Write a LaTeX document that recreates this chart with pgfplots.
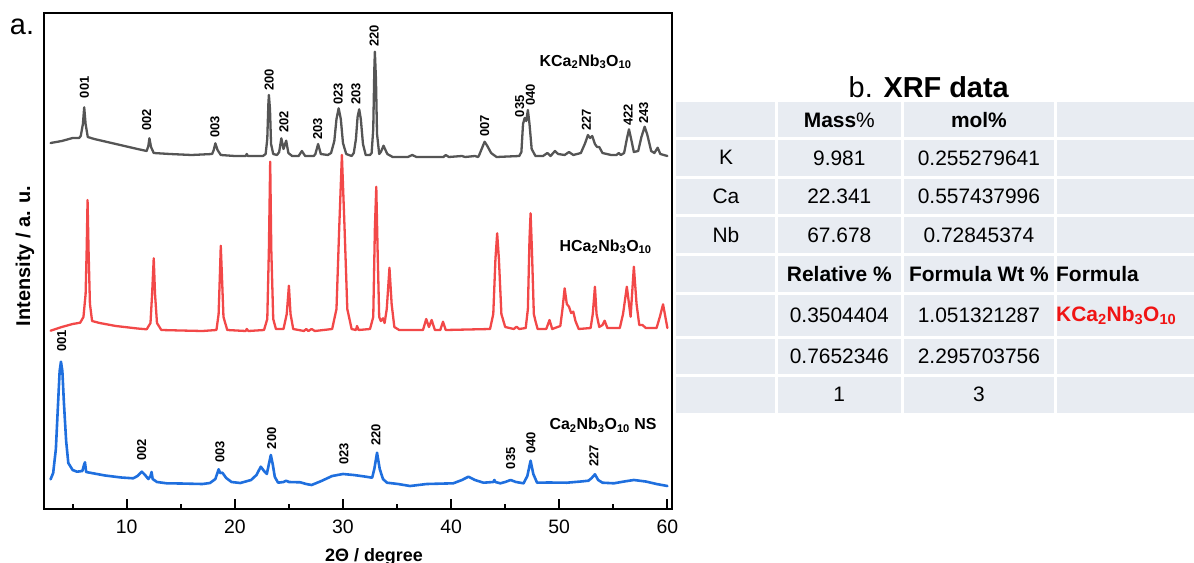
\documentclass[border=0pt]{standalone}
\usepackage{fontspec}
\setmainfont{Liberation Sans}
\usepackage{pgfplots}
\pgfplotsset{compat=1.18}
\definecolor{cgray}{RGB}{85,85,85}
\definecolor{cred}{RGB}{242,72,72}
\definecolor{cblue}{RGB}{31,111,222}
\definecolor{cell}{RGB}{232,236,242}
\definecolor{fred}{RGB}{240,20,20}
\tikzset{pl/.style={rotate=90, anchor=west, inner sep=0pt, font=\bfseries\fontsize{13}{14}\selectfont}}
\begin{document}
\begin{tikzpicture}
\useasboundingbox (0,0) rectangle (1194bp,-563bp);
\begin{axis}[
  at={(44.3bp,-509bp)}, anchor=south west,
  scale only axis, width=627.4bp, height=496bp,
  xmin=2.38, xmax=60.4, ymin=0, ymax=496,
  axis line style={line width=2.2bp},
  ytick=\empty,
  xtick={10,20,...,60}, minor xtick={5,15,...,55},
  tick align=inside, xtick pos=bottom,
  major tick length=10bp, minor tick length=5bp,
  tick style={line width=1.8bp, black},
  /pgf/number format/assume math mode=true,
  xticklabel style={font=\fontsize{19.5}{20}\selectfont, inner sep=0pt, yshift=-11bp},
  clip=false,
  every axis plot/.append style={line join=round, line cap=round},
]
\addplot[cgray, line width=2.3bp] coordinates {
(2.96,366) (4.0,368) (5.0,371) (5.6,371) (5.75,373) (5.95,385) (6.07,401.7) (6.2,385) (6.4,372) (7,370) (9,365) (11,360) (11.85,358) (12.0,363) (12.1,370.7) (12.25,362) (12.5,356) (14,355) (16,354) (17.9,355) (18.05,359) (18.2,365.7) (18.4,359) (18.7,354) (20,353) (21,353) (21.1,355) (21.2,353) (22.6,353) (22.85,355) (23.0,370) (23.1,405) (23.15,414) (23.25,400) (23.35,365) (23.55,355) (23.9,354) (24.1,357) (24.3,370.7) (24.5,360) (24.75,368.3) (24.95,356) (25.3,353) (25.9,353) (26.2,358) (26.5,353) (27.3,353) (27.45,355) (27.7,365) (27.95,355) (28.6,354) (28.9,356) (29.2,368) (29.4,390) (29.6,400.7) (29.8,390) (30.0,366) (30.3,355) (30.8,353) (31.0,356) (31.2,370) (31.35,392) (31.5,399.7) (31.65,390) (31.85,365) (32.1,354) (32.5,354) (32.65,356) (32.8,380) (32.9,440) (32.95,457.3) (33.05,430) (33.15,375) (33.35,355) (33.5,357) (33.75,363.3) (34.1,355) (34.6,352) (36.0,352) (36.4,354) (36.8,352) (39.3,352) (39.5,354) (39.8,352) (41.0,353) (41.3,352) (42.2,353) (42.5,352) (42.6,354) (42.9,362) (43.1,367.3) (43.35,363) (43.7,356) (44.2,352) (46.3,353) (46.5,357) (46.65,385) (46.8,391) (46.95,388) (47.1,399) (47.25,385) (47.45,360) (47.8,353) (48.5,353) (48.9,356) (49.2,353) (49.6,358) (49.9,355) (50.5,354) (50.9,357) (51.3,354) (52.0,356) (52.4,366) (52.65,374) (52.85,371) (53.05,373) (53.3,365) (53.5,362) (53.7,362) (54.0,356) (54.8,354) (55.3,354) (55.5,356) (55.7,354) (56.0,356) (56.25,370) (56.45,379.7) (56.65,370) (56.9,357) (57.3,358) (57.6,372) (57.9,382.3) (58.15,374) (58.5,358) (58.8,356) (59.1,361.3) (59.35,355) (60.0,353)
};
\addplot[cred, line width=2.3bp] coordinates {
(2.96,178.3) (4.0,182) (5.0,185) (5.7,186.3) (6.0,192) (6.2,215) (6.3,260) (6.38,309) (6.47,260) (6.6,205) (6.8,188) (7.5,186) (9,183) (11,180.5) (11.85,179.7) (12.2,186) (12.35,215) (12.5,250.7) (12.62,215) (12.8,186) (13.2,179) (15,178.5) (17,178) (18.3,179) (18.5,195) (18.62,235) (18.7,263.3) (18.8,235) (18.95,192) (19.3,179) (21.0,178) (21.1,180) (21.25,178) (22.7,179) (23.0,190) (23.15,260) (23.27,347.3) (23.37,260) (23.55,190) (23.8,180) (24.5,180) (24.8,195) (25.0,223.3) (25.15,195) (25.4,180) (26.4,178) (26.6,180) (26.8,178) (27.1,180) (27.4,178) (29.0,180) (29.4,200) (29.65,280) (29.9,354) (30.15,280) (30.4,200) (30.8,180) (31.2,179) (31.3,183) (31.45,179) (32.5,180) (32.8,192) (32.95,280) (33.08,322.3) (33.2,260) (33.35,192) (33.5,188) (33.7,190.7) (33.85,186) (34.05,200) (34.3,241.3) (34.5,205) (34.75,182) (35.2,179) (37.4,179) (37.7,190) (37.95,182) (38.2,189) (38.5,179) (39.0,179) (39.25,187.3) (39.5,179) (43.6,180) (43.9,195) (44.1,250) (44.26,275.7) (44.42,250) (44.65,195) (45.0,182) (45.8,180) (46.05,182.3) (46.3,180) (46.9,181) (47.1,200) (47.25,270) (47.35,295.7) (47.47,260) (47.65,195) (47.8,188) (48.0,180) (48.8,180) (49.1,189) (49.35,180) (50.1,183) (50.3,200) (50.5,220.7) (50.7,205) (50.9,202.3) (51.1,196) (51.3,197.3) (51.5,188) (51.8,180) (52.9,181) (53.1,195) (53.3,222.3) (53.45,195) (53.7,182) (54.0,184) (54.2,188.3) (54.45,181) (55.6,181) (55.9,195) (56.25,222.3) (56.6,192.3) (56.9,242.3) (57.15,205) (57.4,184) (57.7,184) (58.0,181) (59.0,181) (59.3,192) (59.6,204.7) (59.85,190) (60.0,181)
};
\addplot[cblue, line width=2.6bp] coordinates {
(2.96,29.7) (3.2,36) (3.45,60) (3.65,105) (3.8,138) (3.92,147.3) (4.05,138) (4.2,105) (4.4,68) (4.6,46) (5.0,39) (5.4,37.3) (5.9,38) (6.05,44) (6.14,46.7) (6.25,37) (6.9,35.7) (8,33.5) (9.5,31.5) (10.6,30.7) (11.0,33) (11.4,37.3) (11.7,34) (12.0,30) (12.2,33) (12.3,37) (12.4,30) (12.8,27) (13.7,25.7) (15,25.5) (17.0,25) (17.7,26) (18.2,30) (18.5,39.7) (18.65,36) (18.85,36.3) (19.2,31) (19.7,27) (20.5,26) (21.5,29) (22.0,34) (22.4,42.3) (22.7,38) (22.96,35) (23.15,45) (23.33,54) (23.5,45) (23.7,32) (24.0,26.3) (24.5,27) (24.75,28.3) (25.0,27) (26.05,26.7) (26.6,25) (27.1,24) (28.0,28) (29.0,33) (30.0,35) (31.0,34) (32.0,32.5) (32.7,31.3) (32.9,40) (33.15,56.3) (33.4,40) (33.7,30) (34.07,26.3) (35.1,25) (36.2,23) (37.75,25) (40.2,25.7) (41.0,29) (41.6,32.3) (42.2,29) (43.0,26.3) (43.9,27) (44.0,29) (44.1,27) (44.55,25.7) (45.0,27) (45.5,29) (46.0,27) (46.7,25.7) (47.05,33) (47.35,48.3) (47.6,35) (47.95,26.3) (49,26.5) (50.7,26.3) (52.0,27.5) (52.7,28.3) (53.0,31) (53.3,34.7) (53.6,29) (54.0,26.3) (55.05,25.7) (56.0,27.5) (56.9,29) (58.0,27.5) (59.0,25) (60.0,23)
};
% peak labels, gray
\node[pl] at (axis cs:6.08,410.7) {001};
\node[pl] at (axis cs:11.85,378) {002};
\node[pl] at (axis cs:18.16,371.3) {003};
\node[pl] at (axis cs:23.18,418.3) {200};
\node[pl] at (axis cs:24.54,376.3) {202};
\node[pl] at (axis cs:27.65,369) {203};
\node[pl] at (axis cs:29.56,404) {023};
\node[pl] at (axis cs:31.19,404) {203};
\node[pl] at (axis cs:32.88,462.3) {220};
\node[pl] at (axis cs:43.1,372.3) {007};
\node[pl] at (axis cs:46.35,391.7) {035};
\node[pl] at (axis cs:47.34,403) {040};
\node[pl] at (axis cs:52.51,378.3) {227};
\node[pl] at (axis cs:56.36,383) {422};
\node[pl] at (axis cs:57.81,385) {243};
% peak labels, blue
\node[pl] at (axis cs:3.99,157.3) {001};
\node[pl] at (axis cs:11.39,48.3) {002};
\node[pl] at (axis cs:18.62,46.3) {003};
\node[pl] at (axis cs:23.4,59.7) {200};
\node[pl] at (axis cs:30.08,44) {023};
\node[pl] at (axis cs:33.04,63) {220};
\node[pl] at (axis cs:45.52,39.7) {035};
\node[pl] at (axis cs:47.37,55) {040};
\node[pl] at (axis cs:53.19,42.3) {227};
\node[font=\bfseries\fontsize{16}{18}\selectfont] at (axis cs:52.44,447.3) {KCa\textsubscript{2}Nb\textsubscript{3}O\textsubscript{10}};
\node[font=\bfseries\fontsize{16}{18}\selectfont] at (axis cs:54.29,262.3) {HCa\textsubscript{2}Nb\textsubscript{3}O\textsubscript{10}};
\node[font=\bfseries\fontsize{16}{18}\selectfont] at (axis cs:54.05,84) {Ca\textsubscript{2}Nb\textsubscript{3}O\textsubscript{10} NS};
\end{axis}
% outer labels
\node[font=\fontsize{29}{30}\selectfont, anchor=center] at (22bp,-27bp) {a.};
\node[font=\bfseries\fontsize{20}{22}\selectfont, rotate=90, anchor=center] at (25bp,-256bp) {Intensity / a. u.};
\node[font=\bfseries\fontsize{18}{20}\selectfont, anchor=base] at (374bp,-561bp) {2\symbol{"0398} / degree};
% table
\fill[cell] (676bp,-101.7bp) rectangle (1194bp,-412.7bp);
\foreach \xx in {776,902.7,1055} {\draw[white, line width=3bp] (\xx bp,-101.7bp) -- (\xx bp,-412.7bp);}
\foreach \yy in {138.3,177.3,215.7,254.3,293.3,337.3,375} {\draw[white, line width=3bp] (676bp,-\yy bp) -- (1194bp,-\yy bp);}
\node[anchor=center] at (928.7bp,-87.5bp) {\fontsize{29}{31}\selectfont b. \bfseries XRF data};
\begin{scope}[every node/.style={font=\fontsize{21}{24}\selectfont, anchor=center, inner sep=0pt}]
\node at (839.3bp,-120bp) {\textbf{Mass}\%};
\node at (978.9bp,-120bp) {\textbf{mol\%}};
\node at (726bp,-157.8bp) {K};
\node at (839.3bp,-157.8bp) {9.981};
\node at (978.9bp,-157.8bp) {0.255279641};
\node at (726bp,-196.5bp) {Ca};
\node at (839.3bp,-196.5bp) {22.341};
\node at (978.9bp,-196.5bp) {0.557437996};
\node at (726bp,-235bp) {Nb};
\node at (839.3bp,-235bp) {67.678};
\node at (978.9bp,-235bp) {0.72845374};
\node at (839.3bp,-273.8bp) {\textbf{Relative \%}};
\node at (978.9bp,-273.8bp) {\textbf{Formula Wt \%}};
\node[anchor=west] at (1056bp,-273.8bp) {\textbf{Formula}};
\node at (839.3bp,-315.3bp) {0.3504404};
\node at (978.9bp,-315.3bp) {1.051321287};
\node[anchor=west, text=fred] at (1056bp,-315.3bp) {\textbf{KCa\textsubscript{2}Nb\textsubscript{3}O\textsubscript{10}}};
\node at (839.3bp,-356.2bp) {0.7652346};
\node at (978.9bp,-356.2bp) {2.295703756};
\node at (839.3bp,-393.9bp) {1};
\node at (978.9bp,-393.9bp) {3};
\end{scope}
\end{tikzpicture}
\end{document}
